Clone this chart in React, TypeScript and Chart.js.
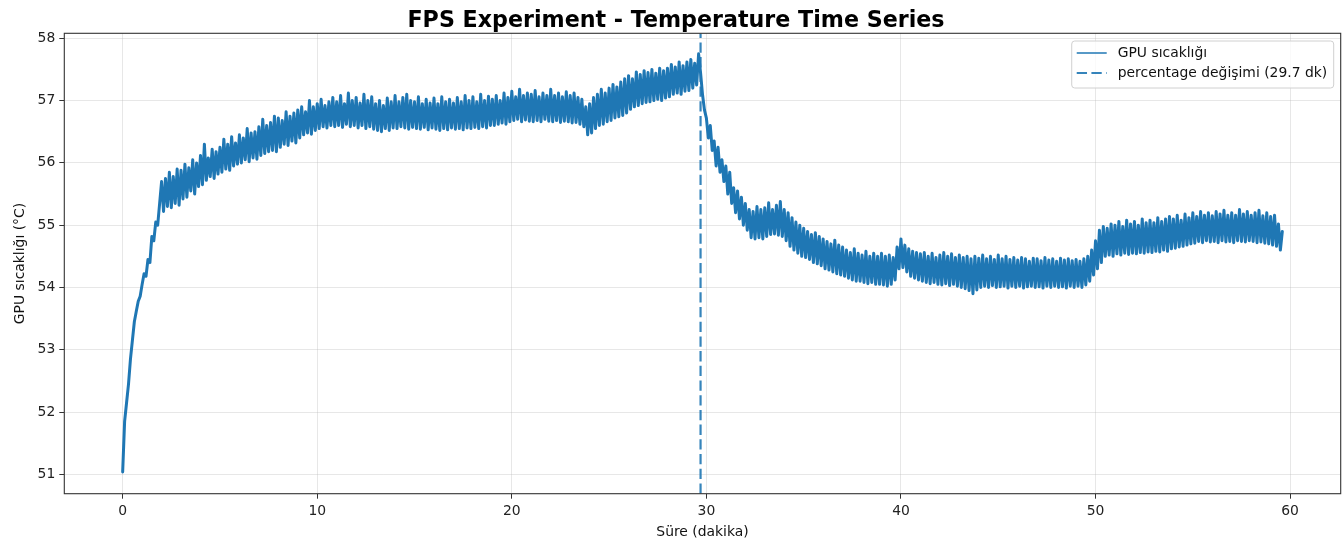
import React, { useEffect, useRef } from 'react';
import { Chart, registerables } from 'chart.js';

Chart.register(...registerables);

// ---- data (GPU temperature, one reading every 0.1 minute) ----
const SAMPLE_STEP_MIN = 0.1;

const WARMUP = [
  51.04, 51.85, 52.15, 52.45, 52.85, 53.15, 53.45, 53.62, 53.78, 53.86,
  54.05, 54.22, 54.18, 54.45, 54.4, 54.82, 54.75, 55.05, 55.0, 55.35,
  55.7, 55.22, 55.75, 55.3, 55.85, 55.28, 55.78, 55.35, 55.9, 55.32,
  55.88, 55.42, 55.98, 55.45, 55.92, 55.55, 56.05, 55.5, 56.0, 55.62,
  56.12, 55.65, 56.3, 55.72, 56.08, 55.78, 56.22, 55.75, 56.18, 55.82,
  56.25, 55.85, 56.38, 55.9, 56.3, 55.88, 56.42, 55.95, 56.32, 55.98,
  56.45, 56.0, 56.4, 56.05, 56.55, 56.02, 56.48, 56.08, 56.5, 56.06,
  56.58, 56.12, 56.7, 56.15, 56.6, 56.18, 56.65, 56.2, 56.75, 56.18,
  56.72, 56.25, 56.68, 56.3, 56.82, 56.28, 56.75, 56.35, 56.8, 56.32,
  56.85, 56.4, 56.9, 56.45, 56.82, 56.48, 57.0, 56.46, 56.9, 56.52,
];

const PLATEAU = [
  56.95, 56.55, 57.02, 56.58, 56.92, 56.56, 56.98, 56.6, 57.05, 56.58,
  56.98, 56.6, 57.08, 56.57, 56.95, 56.62, 57.12, 56.58, 57.0, 56.6,
  57.05, 56.56, 56.96, 56.6, 57.1, 56.55, 57.0, 56.58, 57.06, 56.54,
  56.95, 56.52, 57.0, 56.5, 56.92, 56.55, 57.04, 56.52, 56.98, 56.56,
  57.08, 56.55, 56.98, 56.58, 57.05, 56.56, 57.1, 56.54, 57.0, 56.57,
  56.98, 56.55, 57.06, 56.54, 56.95, 56.57, 57.02, 56.53, 56.96, 56.56,
  57.04, 56.54, 56.95, 56.52, 57.06, 56.55, 56.98, 56.53, 57.02, 56.56,
  56.96, 56.54, 57.05, 56.55, 56.98, 56.53, 57.08, 56.56, 57.0, 56.55,
  57.06, 56.57, 56.98, 56.55, 57.1, 56.58, 57.0, 56.56, 57.07, 56.6,
  57.02, 56.6, 57.08, 56.62, 57.0, 56.64, 57.12, 56.62, 57.05, 56.66,
  57.15, 56.68, 57.06, 56.7, 57.18, 56.66, 57.08, 56.69, 57.12, 56.67,
  57.1, 56.66, 57.16, 56.68, 57.06, 56.66, 57.12, 56.7, 57.08, 56.67,
  57.18, 56.66, 57.08, 56.68, 57.12, 56.65, 57.06, 56.67, 57.14, 56.66,
  57.08, 56.64, 57.12, 56.65, 57.05, 56.62, 57.02, 56.58, 56.9, 56.45,
  56.95, 56.48, 57.05, 56.55, 57.1, 56.6, 57.18, 56.62, 57.12, 56.66,
  57.2, 56.68, 57.26, 56.72, 57.22, 56.74, 57.3, 56.76, 57.35, 56.8,
  57.4, 56.86, 57.35, 56.9, 57.46, 56.92, 57.42, 56.95, 57.48, 56.97,
  57.45, 56.98, 57.5, 57.0, 57.44, 57.02, 57.52, 57.0, 57.48, 57.04,
  57.52, 57.06, 57.58, 57.1, 57.54, 57.12, 57.62, 57.1, 57.56, 57.15,
  57.62, 57.16, 57.66, 57.2, 57.6, 57.25, 57.75, 57.45, 57.1, 56.85,
];

const COOLDOWN = [
  56.72, 56.4, 56.6, 56.2, 56.35, 55.95, 56.25, 55.85, 56.05, 55.7,
  55.95, 55.5, 55.85, 55.35, 55.6, 55.2, 55.55, 55.1, 55.45, 55.0,
  55.35, 54.92, 55.25, 54.8, 55.22, 54.78, 55.3, 54.8, 55.25, 54.78,
  55.28, 54.82, 55.36, 54.85, 55.25, 54.86, 55.32, 54.84, 55.38, 54.82,
  55.25, 54.75, 55.2, 54.66, 55.12, 54.6, 55.05, 54.55, 55.0, 54.5,
  54.95, 54.48, 54.9, 54.45, 54.85, 54.4, 54.88, 54.38, 54.82, 54.35,
  54.78, 54.3, 54.74, 54.28, 54.7, 54.25, 54.76, 54.22, 54.68, 54.2,
  54.65, 54.18, 54.6, 54.15, 54.56, 54.12, 54.62, 54.1, 54.55, 54.1,
  54.52, 54.08, 54.58, 54.06, 54.5, 54.08, 54.55, 54.05, 54.5, 54.05,
  54.55, 54.04, 54.5, 54.02, 54.52, 54.05, 54.48, 54.12, 54.65, 54.3,
  54.78, 54.32, 54.68, 54.25, 54.62, 54.18, 54.58, 54.15, 54.56, 54.12,
  54.54, 54.1, 54.56, 54.08, 54.5, 54.06, 54.55, 54.08, 54.48, 54.05,
  54.52, 54.04, 54.56, 54.06, 54.5, 54.03, 54.54, 54.05, 54.48, 54.02,
  54.52, 54.0, 54.48, 53.98, 54.5, 53.95, 54.46, 53.9, 54.5, 53.96,
  54.47, 54.0, 54.52, 54.02, 54.46, 54.0, 54.5, 54.03, 54.45, 54.0,
  54.52, 54.01, 54.46, 54.02, 54.5, 53.99, 54.45, 54.02, 54.48, 54.0,
  54.44, 54.02, 54.48, 53.99, 54.46, 54.01, 54.42, 54.02, 54.47, 54.0,
  54.46, 54.01, 54.43, 53.99, 54.48, 54.02, 54.44, 54.0, 54.46, 54.02,
  54.42, 54.0, 54.47, 54.01, 54.44, 53.99, 54.46, 54.02, 54.43, 54.0,
  54.45, 54.02, 54.42, 54.0, 54.46, 54.04, 54.5, 54.1, 54.6, 54.2,
];

const SETTLE = [
  54.75, 54.3, 54.92, 54.4, 54.98, 54.5, 54.95, 54.52, 55.02, 54.5,
  55.0, 54.54, 55.06, 54.52, 54.98, 54.55, 55.08, 54.53, 55.02, 54.55,
  55.06, 54.54, 55.0, 54.56, 55.1, 54.55, 55.04, 54.57, 55.08, 54.56,
  55.04, 54.58, 55.12, 54.57, 55.06, 54.6, 55.1, 54.58, 55.14, 54.62,
  55.1, 54.63, 55.16, 54.65, 55.08, 54.66, 55.18, 54.68, 55.12, 54.7,
  55.2, 54.71, 55.14, 54.74, 55.22, 54.72, 55.16, 54.75, 55.2, 54.73,
  55.15, 54.74, 55.22, 54.72, 55.18, 54.75, 55.24, 54.73, 55.16, 54.74,
  55.2, 54.72, 55.16, 54.75, 55.25, 54.74, 55.18, 54.73, 55.22, 54.75,
  55.16, 54.74, 55.2, 54.72, 55.24, 54.73, 55.15, 54.71, 55.2, 54.7,
  55.14, 54.68, 55.16, 54.66, 55.02, 54.6, 54.9,
];

const CHANGE_POINT_MIN = [29.7];
const X_TICKS = [0, 10, 20, 30, 40, 50, 60];
const Y_TICKS = [51, 52, 53, 54, 55, 56, 57, 58];
const LEGEND_LABELS = ['GPU sıcaklığı', 'percentage değişimi (29.7 dk)'];
const TITLE = 'FPS Experiment - Temperature Time Series';
const X_LABEL = 'Süre (dakika)';
const Y_LABEL = 'GPU sıcaklığı (°C)';

const LINE_COLOR = '#1f77b4';
const VLINE_COLOR = 'rgba(31,119,180,0.9)';
const FONT = "'DejaVu Sans', 'Noto Sans', sans-serif";

const decorPlugin = {
  id: 'decor',
  afterDatasetsDraw(chart: any) {
    const { ctx, chartArea: a, scales } = chart;
    const xs = scales.x;
    ctx.save();
    ctx.beginPath();
    ctx.rect(a.left, a.top, a.right - a.left, a.bottom - a.top);
    ctx.clip();
    CHANGE_POINT_MIN.forEach((t) => {
      const px = xs.getPixelForValue(t);
      ctx.beginPath();
      ctx.setLineDash([10.3, 4.4]);
      ctx.strokeStyle = VLINE_COLOR;
      ctx.lineWidth = 2.2;
      ctx.moveTo(px, a.bottom);
      ctx.lineTo(px, a.top);
      ctx.stroke();
    });
    ctx.restore();

    // frame
    ctx.save();
    ctx.strokeStyle = '#333';
    ctx.lineWidth = 1.1;
    ctx.strokeRect(a.left, a.top, a.right - a.left, a.bottom - a.top);
    ctx.restore();
  },
  afterDraw(chart: any) {
    const { ctx, chartArea: a } = chart;
    ctx.save();
    // title
    ctx.fillStyle = '#000';
    ctx.font = `bold 22.2px ${FONT}`;
    ctx.textAlign = 'center';
    ctx.textBaseline = 'alphabetic';
    ctx.fillText(TITLE, 676, 27);

    // x label
    ctx.font = `13.9px ${FONT}`;
    ctx.fillStyle = '#111';
    ctx.fillText(X_LABEL, (a.left + a.right) / 2, 536);

    // y label
    ctx.save();
    ctx.translate(23.5, (a.top + a.bottom) / 2);
    ctx.rotate(-Math.PI / 2);
    ctx.textAlign = 'center';
    ctx.fillText(Y_LABEL, 0, 0);
    ctx.restore();

    // legend
    ctx.font = `13.9px ${FONT}`;
    const textW = Math.max(...LEGEND_LABELS.map((l) => ctx.measureText(l).width));
    const boxW = 5 + 30 + 11 + textW + 6.5;
    const boxH = 47;
    const bx = a.right - 7 - boxW;
    const by = a.top + 7.7;
    const r = 3;
    ctx.beginPath();
    ctx.moveTo(bx + r, by);
    ctx.lineTo(bx + boxW - r, by);
    ctx.arcTo(bx + boxW, by, bx + boxW, by + r, r);
    ctx.lineTo(bx + boxW, by + boxH - r);
    ctx.arcTo(bx + boxW, by + boxH, bx + boxW - r, by + boxH, r);
    ctx.lineTo(bx + r, by + boxH);
    ctx.arcTo(bx, by + boxH, bx, by + boxH - r, r);
    ctx.lineTo(bx, by + r);
    ctx.arcTo(bx, by, bx + r, by, r);
    ctx.closePath();
    ctx.fillStyle = 'rgba(255,255,255,0.8)';
    ctx.fill();
    ctx.strokeStyle = '#d0d0d0';
    ctx.lineWidth = 1;
    ctx.stroke();

    LEGEND_LABELS.forEach((label, i) => {
      const cy = by + 12 + i * 20;
      ctx.beginPath();
      if (i === 0) {
        ctx.setLineDash([]);
        ctx.strokeStyle = LINE_COLOR;
        ctx.lineWidth = 1.5;
      } else {
        ctx.setLineDash([10.3, 4.4]);
        ctx.strokeStyle = VLINE_COLOR;
        ctx.lineWidth = 2.2;
      }
      ctx.moveTo(bx + 5, cy);
      ctx.lineTo(bx + 35, cy);
      ctx.stroke();
      ctx.setLineDash([]);
      ctx.fillStyle = '#111';
      ctx.textAlign = 'left';
      ctx.textBaseline = 'middle';
      ctx.fillText(label, bx + 46, cy + 0.5);
    });
    ctx.restore();
  },
};

export default function App() {
  const canvasRef = useRef<HTMLCanvasElement | null>(null);

  useEffect(() => {
    const canvas = canvasRef.current;
    if (!canvas) return;
    const series = [...WARMUP, ...PLATEAU, ...COOLDOWN, ...SETTLE];
    const points = series.map((v, i) => ({ x: i * SAMPLE_STEP_MIN, y: v }));
    const GRID = 'rgba(176,176,176,0.3)';

    const chart = new Chart(canvas, {
      type: 'line',
      data: {
        datasets: [
          {
            label: LEGEND_LABELS[0],
            data: points,
            borderColor: LINE_COLOR,
            borderWidth: 3,
            borderJoinStyle: 'round',
            borderCapStyle: 'round',
            pointRadius: 0,
            tension: 0,
            fill: false,
          },
        ],
      },
      options: {
        animation: false,
        responsive: false,
        parsing: false as any,
        events: [],
        layout: { padding: { top: 33.3, right: 2.3, left: 0, bottom: 0 } },
        plugins: {
          legend: { display: false },
          title: { display: false },
          tooltip: { enabled: false },
        },
        scales: {
          x: {
            type: 'linear',
            min: -3.0,
            max: 62.6,
            afterBuildTicks: (s: any) => {
              s.ticks = X_TICKS.map((value) => ({ value }));
            },
            afterFit: (s: any) => {
              s.height = 49.3;
            },
            grid: { color: GRID, lineWidth: 1, tickColor: '#333', tickLength: 5, drawTicks: true },
            border: { display: false },
            ticks: {
              color: '#222',
              padding: 4,
              maxRotation: 0,
              autoSkip: false,
              font: { family: FONT, size: 13.9 },
              callback: (v: any) => String(v),
            },
          },
          y: {
            type: 'linear',
            min: 50.69,
            max: 58.08,
            afterBuildTicks: (s: any) => {
              s.ticks = Y_TICKS.map((value) => ({ value }));
            },
            afterFit: (s: any) => {
              s.width = 64.3;
            },
            grid: { color: GRID, lineWidth: 1, tickColor: '#333', tickLength: 5, drawTicks: true },
            border: { display: false },
            ticks: {
              color: '#222',
              padding: 4,
              autoSkip: false,
              font: { family: FONT, size: 13.9 },
              callback: (v: any) => String(v),
            },
          },
        },
      },
      plugins: [decorPlugin],
    });
    return () => chart.destroy();
  }, []);

  return (
    <div style={{ position: 'fixed', left: 0, top: 0, width: 1343, height: 543, background: '#fff' }}>
      <canvas ref={canvasRef} width={1343} height={543} style={{ display: 'block' }} />
    </div>
  );
}
